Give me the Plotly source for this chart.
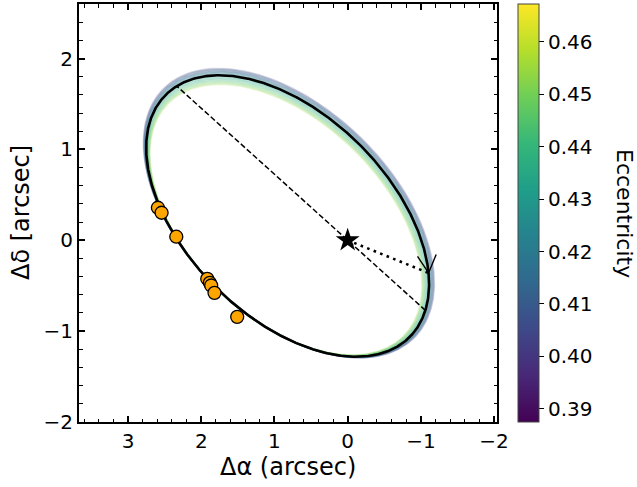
import numpy as np
import plotly.graph_objects as go
from plotly.colors import sample_colorscale

# ---------------- data ----------------
best_ecc = 0.426
peri_ra, peri_dec = -1.105, -0.36      # periastron offset of best orbit (arcsec)
conj_ra, conj_dec = -0.17, -1.416      # conjugate semi-diameter (direction of motion at periastron)
node_pa_deg = 54.0                     # position angle of the line of nodes

# posterior sample orbits: eccentricity and size relative to best orbit
sample_ecc = [0.404, 0.407, 0.410, 0.412, 0.414, 0.416, 0.418, 0.420, 0.422, 0.424,
              0.427, 0.430, 0.433, 0.436, 0.439, 0.442, 0.445, 0.448, 0.451, 0.454]
sample_scale = [1.028, 1.025, 1.022, 1.019, 1.016, 1.014, 1.011, 1.008, 1.005, 1.003,
                0.999, 0.995, 0.991, 0.987, 0.983, 0.979, 0.975, 0.971, 0.967, 0.963]
anchor_ra, anchor_dec = 1.45, -0.85

# relative astrometry
obs_ra = [2.592, 2.542, 2.341, 1.918, 1.883, 1.864, 1.819, 1.509]
obs_dec = [0.358, 0.303, 0.039, -0.424, -0.468, -0.498, -0.579, -0.843]

x_ticks = [3, 2, 1, 0, -1, -2]
y_ticks = [-2, -1, 0, 1, 2]
cbar_ticks = [0.39, 0.40, 0.41, 0.42, 0.43, 0.44, 0.45, 0.46]
ecc_min, ecc_max = 0.3875, 0.4672
x_range = [3.67, -2.04]
y_range = [-2.0, 2.6]

# ---------------- layout geometry ----------------
W, H = 637, 487
ML, MR, MT, MB = 79, 140, 4, 65
plot_w = W - ML - MR
plot_h = H - MT - MB
kx = plot_w / abs(x_range[1] - x_range[0])
ky = plot_h / abs(y_range[1] - y_range[0])

E = np.linspace(0, 2 * np.pi, 1441)


def orbit(e):
    ux = peri_ra / (1 - e)
    uy = peri_dec / (1 - e)
    ra = ux * (np.cos(E) - e) + conj_ra * np.sin(E)
    dec = uy * (np.cos(E) - e) + conj_dec * np.sin(E)
    return ra, dec


best_ra, best_dec = orbit(best_ecc)

fig = go.Figure()

# sample orbits
for e, s in zip(sample_ecc, sample_scale):
    t = (e - ecc_min) / (ecc_max - ecc_min)
    col = sample_colorscale("Viridis", [t])[0]
    ra = anchor_ra + s * (best_ra - anchor_ra)
    dec = anchor_dec + s * (best_dec - anchor_dec)
    fig.add_trace(go.Scatter(x=ra, y=dec, mode="lines",
                             line=dict(color=col, width=1.8), opacity=0.2,
                             hoverinfo="skip", showlegend=False))

# best orbit
fig.add_trace(go.Scatter(x=best_ra, y=best_dec, mode="lines",
                         line=dict(color="black", width=2.6),
                         hoverinfo="skip", showlegend=False))

# line of nodes: intersections of the orbit with the nodal line through the star
om = np.deg2rad(node_pa_deg)
f = best_ra * np.cos(om) - best_dec * np.sin(om)
idx = np.where(np.sign(f[:-1]) != np.sign(f[1:]))[0]
nodes_ra, nodes_dec = [], []
for i in idx:
    w = f[i] / (f[i] - f[i + 1])
    nodes_ra.append(best_ra[i] + w * (best_ra[i + 1] - best_ra[i]))
    nodes_dec.append(best_dec[i] + w * (best_dec[i + 1] - best_dec[i]))
fig.add_trace(go.Scatter(x=nodes_ra, y=nodes_dec, mode="lines",
                         line=dict(color="black", width=1.5, dash="5.5px,2.6px"),
                         hoverinfo="skip", showlegend=False))

# periastron line
fig.add_trace(go.Scatter(x=[0, peri_ra], y=[0, peri_dec], mode="lines",
                         line=dict(color="black", width=2.6, dash="2.6px,4.4px"),
                         hoverinfo="skip", showlegend=False))

# direction-of-motion arrow at periastron (open chevron)
d = np.array([-conj_ra * kx, -conj_dec * ky])
d = d / np.hypot(*d)
L, th = 20.0, np.deg2rad(28)
arm_ra, arm_dec = [], []
for sgn in (1, -1):
    c, sn = np.cos(sgn * th), np.sin(sgn * th)
    r = np.array([c * d[0] - sn * d[1], sn * d[0] + c * d[1]])
    off = -L * r
    arm_ra.append(peri_ra - off[0] / kx)
    arm_dec.append(peri_dec - off[1] / ky)
fig.add_trace(go.Scatter(x=[arm_ra[0], peri_ra, arm_ra[1]],
                         y=[arm_dec[0], peri_dec, arm_dec[1]], mode="lines",
                         line=dict(color="black", width=1.4),
                         hoverinfo="skip", showlegend=False))

# observations
fig.add_trace(go.Scatter(x=obs_ra, y=obs_dec, mode="markers",
                         marker=dict(size=13, color="#FFA500",
                                     line=dict(color="black", width=1.3)),
                         showlegend=False))

# host star
fig.add_trace(go.Scatter(x=[0], y=[0], mode="markers",
                         marker=dict(symbol="star", size=18, color="black",
                                     line=dict(width=0)),
                         showlegend=False))

# colorbar carrier
fig.add_trace(go.Scatter(
    x=[None], y=[None], mode="markers", showlegend=False, hoverinfo="skip",
    marker=dict(color=[ecc_min], colorscale="Viridis", cmin=ecc_min, cmax=ecc_max,
                showscale=True,
                colorbar=dict(x=1.05, xanchor="left", xpad=0, y=0.5, yanchor="middle",
                              len=1, lenmode="fraction", ypad=0, thickness=21,
                              outlinewidth=1, outlinecolor="#444",
                              tickvals=cbar_ticks,
                              ticktext=[f"{v:.2f}" for v in cbar_ticks],
                              ticks="outside", ticklen=5, tickwidth=1.2,
                              tickcolor="black",
                              tickfont=dict(family="DejaVu Sans", size=20, color="black")))))

axis_common = dict(showline=True, linewidth=2, linecolor="black", mirror="allticks",
                   ticks="inside", ticklen=6, tickwidth=1.5, tickcolor="black",
                   showgrid=False, zeroline=False,
                   tickfont=dict(family="DejaVu Sans", size=20, color="black"),
                   minor=dict(ticks="inside", ticklen=3.5, tickwidth=1.2,
                              tickcolor="black", dtick=0.2, showgrid=False))

fig.update_xaxes(range=x_range, tickvals=x_ticks,
                 ticktext=[("\u2212" + str(-v)) if v < 0 else str(v) for v in x_ticks],
                 **axis_common)
fig.update_yaxes(range=y_range, tickvals=y_ticks,
                 ticktext=[("\u2212" + str(-v)) if v < 0 else str(v) for v in y_ticks],
                 **axis_common)

fig.update_layout(
    width=W, height=H, margin=dict(l=ML, r=MR, t=MT, b=MB, autoexpand=False),
    plot_bgcolor="white", paper_bgcolor="white",
    font=dict(family="DejaVu Sans", color="black"),
    annotations=[
        dict(text="\u0394\u03b1 (arcsec)", xref="paper", yref="paper",
             x=0.5, y=-(467 - (H - MB)) / plot_h, xanchor="center", yanchor="middle",
             showarrow=False, font=dict(size=24, family="DejaVu Sans")),
        dict(text="\u0394\u03b4 [arcsec]", xref="paper", yref="paper",
             x=-(ML - 21) / plot_w, y=0.5, xanchor="center", yanchor="middle",
             textangle=-90, showarrow=False, font=dict(size=24, family="DejaVu Sans")),
        dict(text="Eccentricity", xref="paper", yref="paper",
             x=1 + (625 - (W - MR)) / plot_w, y=0.5, xanchor="center", yanchor="middle",
             textangle=90, showarrow=False, font=dict(size=22, family="DejaVu Sans")),
    ],
)

fig.write_html("out.html")
